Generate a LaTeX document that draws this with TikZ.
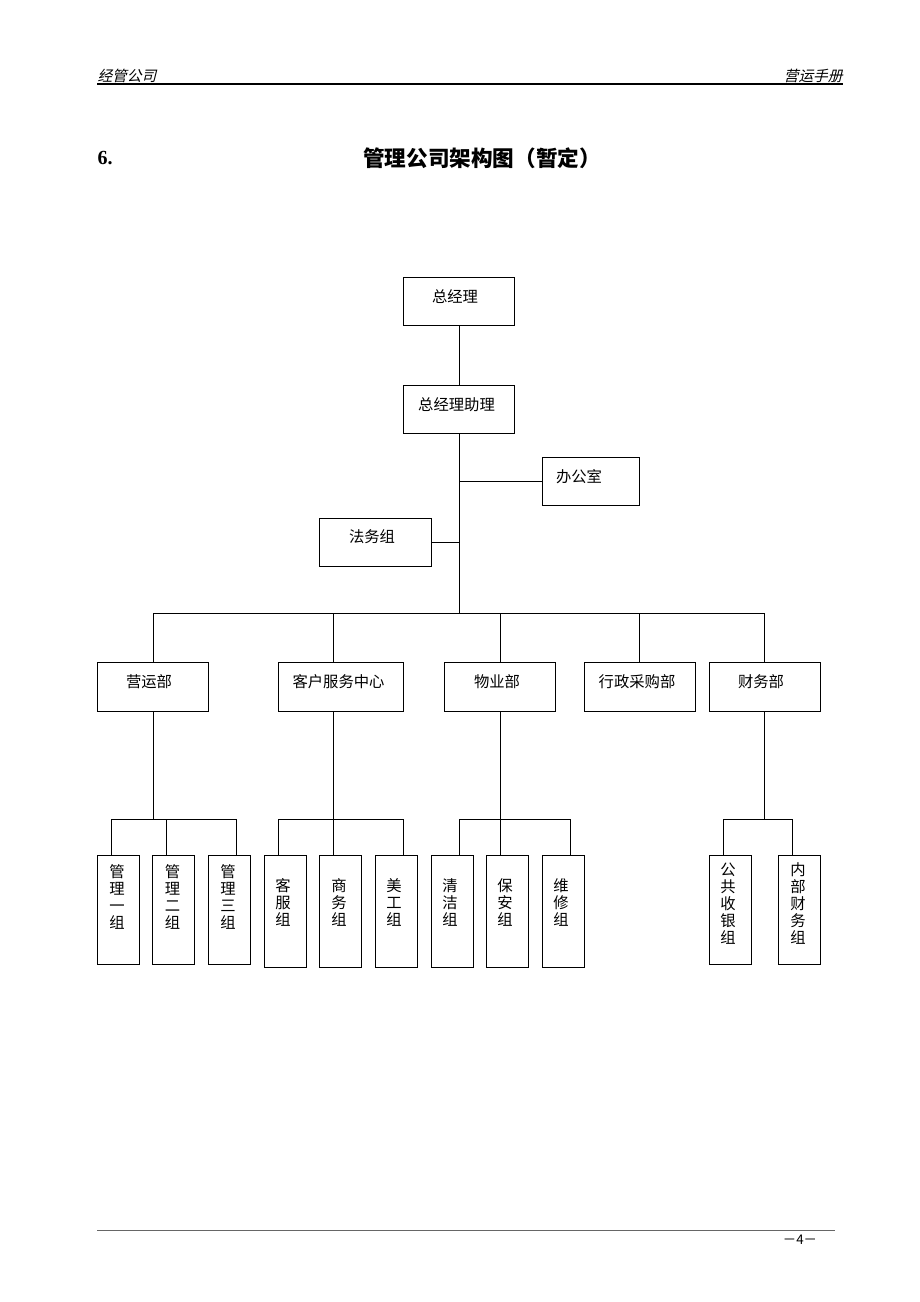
\documentclass[tikz,border=0pt]{standalone}
\usepackage{fontspec}
\setmainfont{Liberation Serif}
\newfontfamily\cjk{Noto Sans CJK SC}
\newfontfamily\cjkit[FakeSlant=0.25]{Noto Sans CJK SC}
\begin{document}
\begin{tikzpicture}[x=0.75pt,y=-0.75pt,line width=0.75pt,
  bx/.style 2 args={draw,inner sep=0pt,minimum width=#1*0.75pt,minimum height=#2*0.75pt},
  lbl/.style={font=\cjk\fontsize{11.5pt}{12.75pt}\selectfont,inner sep=0pt},
  vlbl/.style={lbl,align=center},
  hdr/.style={font=\cjkit\fontsize{11pt}{13pt}\selectfont,inner sep=0pt},
  conn/.style={line width=0.75pt}]
\useasboundingbox (0,0) rectangle (920,1302);

% header
\node[hdr,anchor=west] (h1) at (97,76) {经管公司};
\node[hdr,anchor=east] (h2) at (843,76) {营运手册};
\coordinate (hl1) at (97,84); \coordinate (hl2) at (843,84);
\draw[line width=0.8pt] (hl1) -- (hl2);

% title
\node[font=\bfseries\fontsize{15pt}{17pt}\selectfont,anchor=west,inner sep=0pt] (num) at (97,158) {6.};
\node[font=\cjk\bfseries\fontsize{16.2pt}{19pt}\selectfont,inner sep=0pt] (title) at (482,158) {管理公司架构图（暂定）};

% boxes
\node[bx={111}{48}] (gm) at (459,301) {};
\node[bx={111}{48}] (asst) at (459,409) {};
\node[bx={97}{48}] (office) at (590.5,481) {};
\node[bx={112}{48}] (legal) at (375,542) {};

\node[bx={111}{49}] (yy) at (153,686.5) {};
\node[bx={125}{49}] (kf) at (340.5,686.5) {};
\node[bx={111}{49}] (wy) at (500,686.5) {};
\node[bx={111}{49}] (xz) at (640,686.5) {};
\node[bx={111}{49}] (cw) at (765,686.5) {};

\node[bx={42}{109}] (g1) at (118,909.5) {};
\node[bx={42}{109}] (g2) at (173.5,909.5) {};
\node[bx={42}{109}] (g3) at (229,909.5) {};
\node[bx={42}{112}] (k1) at (285,911) {};
\node[bx={42}{112}] (k2) at (340,911) {};
\node[bx={42}{112}] (k3) at (396,911) {};
\node[bx={42}{112}] (w1) at (452,911) {};
\node[bx={42}{112}] (w2) at (507.5,911) {};
\node[bx={42}{112}] (w3) at (563,911) {};
\node[bx={42}{109}] (c1) at (730,909.5) {};
\node[bx={42}{109}] (c2) at (799.5,909.5) {};

% labels
\node[lbl] (tgm) at (455,297) {总经理};
\node[lbl] (tasst) at (456.5,404.5) {总经理助理};
\node[lbl] (toffice) at (579,477) {办公室};
\node[lbl] (tlegal) at (372,537) {法务组};
\node[lbl] (tyy) at (149,681.5) {营运部};
\node[lbl] (tkf) at (338.5,681.5) {客户服务中心};
\node[lbl] (twy) at (497,681.5) {物业部};
\node[lbl] (txz) at (637,681.5) {行政采购部};
\node[lbl] (tcw) at (761,681.5) {财务部};

\node[vlbl,anchor=north] (tg1) at (117,864) {管\\理\\一\\组};
\node[vlbl,anchor=north] (tg2) at (172.5,864) {管\\理\\二\\组};
\node[vlbl,anchor=north] (tg3) at (228,864) {管\\理\\三\\组};
\node[vlbl,anchor=north] (tk1) at (283,878) {客\\服\\组};
\node[vlbl,anchor=north] (tk2) at (339,878) {商\\务\\组};
\node[vlbl,anchor=north] (tk3) at (394,878) {美\\工\\组};
\node[vlbl,anchor=north] (tw1) at (450,878) {清\\洁\\组};
\node[vlbl,anchor=north] (tw2) at (505,878) {保\\安\\组};
\node[vlbl,anchor=north] (tw3) at (561,878) {维\\修\\组};
\node[vlbl,anchor=north] (tc1) at (728,862) {公\\共\\收\\银\\组};
\node[vlbl,anchor=north] (tc2) at (798,862) {内\\部\\财\\务\\组};

% connectors top
\coordinate (bus) at (459,613);
\draw[conn] (gm.south) -- (asst.north);
\draw[conn] (asst.south) -- (bus);
\draw[conn] (asst.south |- office.west) -- (office.west);
\draw[conn] (legal.east) -- (legal.east -| asst.south);

\coordinate (d1) at (153,613);
\coordinate (d2) at (333,613);
\coordinate (d3) at (500,613);
\coordinate (d4) at (639,613);
\coordinate (d5) at (764,613);
\draw[conn] (d1) -- (d5);
\draw[conn] (d1) -- (d1 |- yy.north);
\draw[conn] (d2) -- (d2 |- kf.north);
\draw[conn] (d3) -- (d3 |- wy.north);
\draw[conn] (d4) -- (d4 |- xz.north);
\draw[conn] (d5) -- (d5 |- cw.north);

% connectors to sub groups
\coordinate (s1) at (153,819);
\coordinate (s2) at (333,819);
\coordinate (s3) at (500,819);
\coordinate (s4) at (764,819);
\draw[conn] (s1 |- yy.south) -- (s1);
\draw[conn] (s2 |- kf.south) -- (s2);
\draw[conn] (s3 |- wy.south) -- (s3);
\draw[conn] (s4 |- cw.south) -- (s4);

\coordinate (a1) at (111,819); \coordinate (a2) at (166,819); \coordinate (a3) at (236,819);
\coordinate (b1) at (278,819); \coordinate (b2) at (333,819); \coordinate (b3) at (403,819);
\coordinate (e1) at (459,819); \coordinate (e2) at (500,819); \coordinate (e3) at (570,819);
\coordinate (f1) at (723,819); \coordinate (f2) at (792,819);
\draw[conn] (a1) -- (a3);
\draw[conn] (b1) -- (b3);
\draw[conn] (e1) -- (e3);
\draw[conn] (f1) -- (f2);
\draw[conn] (a1) -- (a1 |- g1.north);
\draw[conn] (a2) -- (a2 |- g2.north);
\draw[conn] (a3) -- (a3 |- g3.north);
\draw[conn] (b1) -- (b1 |- k1.north);
\draw[conn] (b2) -- (b2 |- k2.north);
\draw[conn] (b3) -- (b3 |- k3.north);
\draw[conn] (e1) -- (e1 |- w1.north);
\draw[conn] (e2) -- (e2 |- w2.north);
\draw[conn] (e3) -- (e3 |- w3.north);
\draw[conn] (f1) -- (f1 |- c1.north);
\draw[conn] (f2) -- (f2 |- c2.north);

% footer
\coordinate (fl1) at (97,1230); \coordinate (fl2) at (835,1230);
\draw[line width=0.5pt,black!60] (fl1) -- (fl2);
\node[font=\cjk\fontsize{10pt}{12pt}\selectfont,inner sep=0pt] (pg) at (800,1240) {－4－};
\end{tikzpicture}
\end{document}
